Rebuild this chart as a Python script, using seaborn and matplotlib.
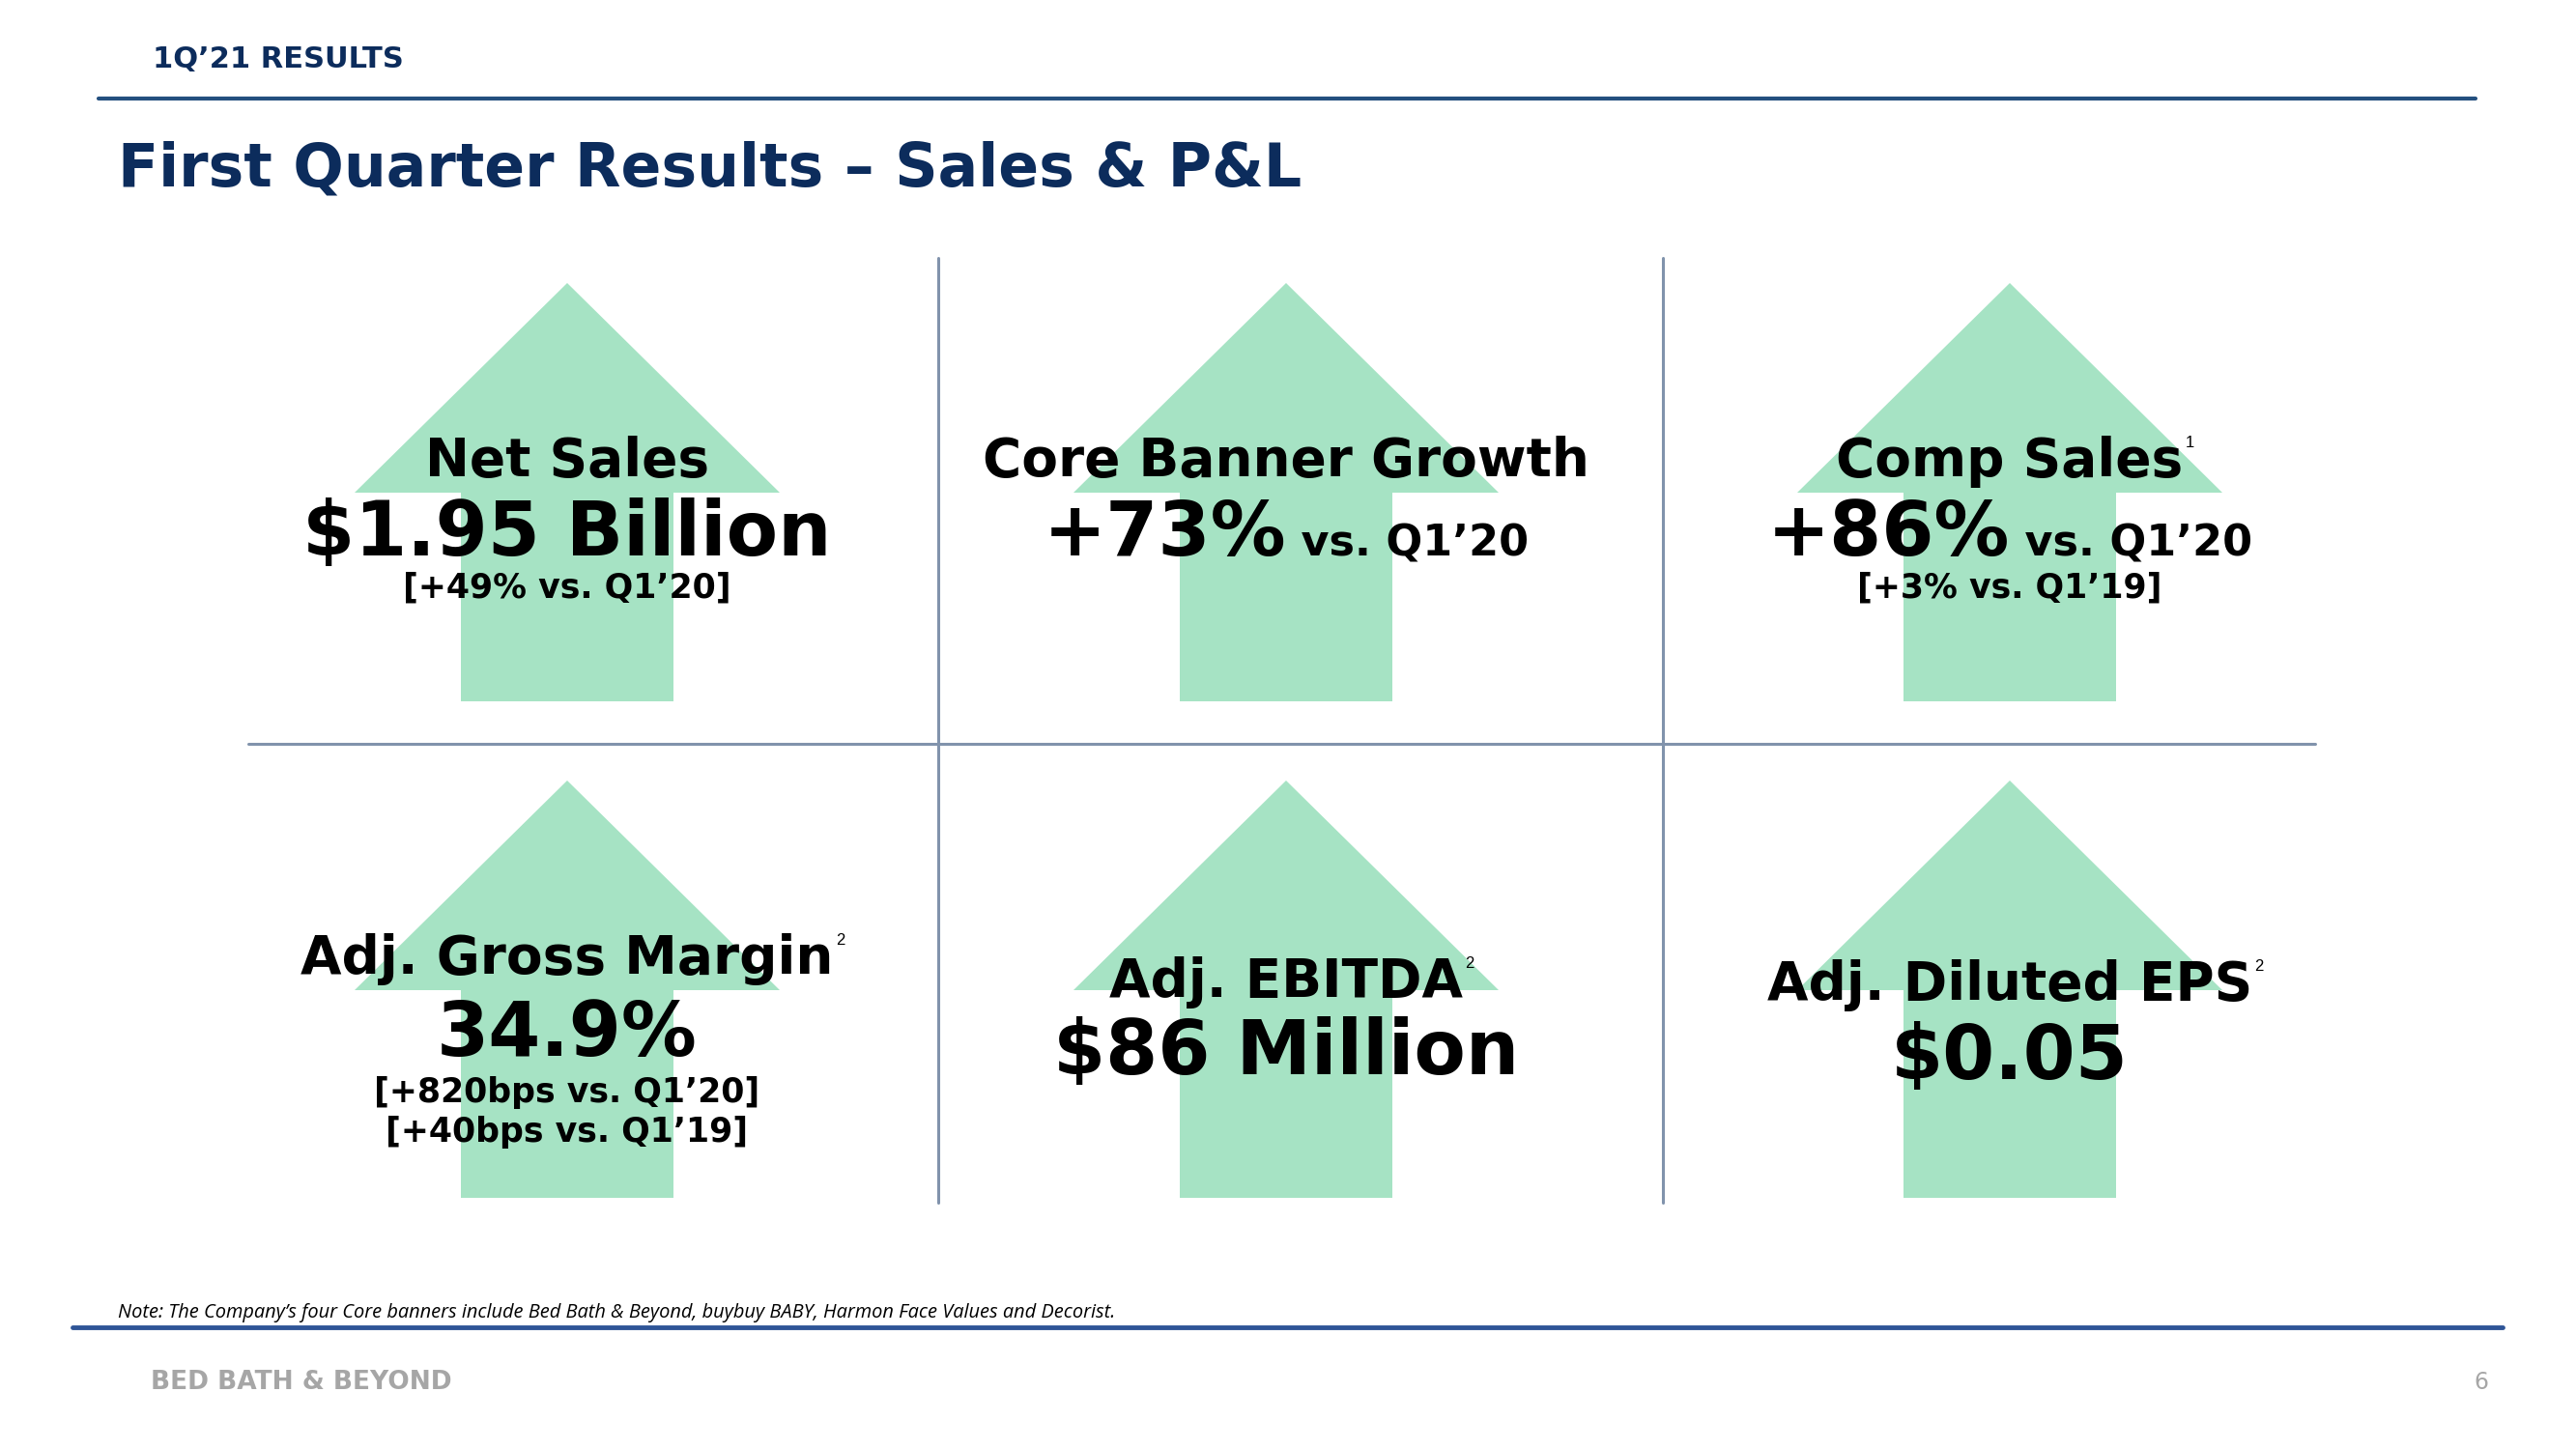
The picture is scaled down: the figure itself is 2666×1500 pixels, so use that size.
import matplotlib
matplotlib.use("Agg")
import matplotlib.pyplot as plt
from matplotlib.patches import Polygon
import seaborn as sns

# --- contenu du slide ---
section_label = "1Q\u201921 RESULTS"
page_title = "First Quarter Results \u2013 Sales & P&L"
metric_names = ["Net Sales", "Core Banner Growth", "Comp Sales",
                "Adj. Gross Margin", "Adj. EBITDA", "Adj. Diluted EPS"]
metric_notes = ["", "", "1", "2", "2", "2"]
metric_values = ["$1.95 Billion", "+73%", "+86%", "34.9%", "$86 Million", "$0.05"]
value_suffix = ["", " vs. Q1\u201920", " vs. Q1\u201920", "", "", ""]
metric_details = [["[+49% vs. Q1\u201920]"], [], ["[+3% vs. Q1\u201919]"],
                  ["[+820bps vs. Q1\u201920]", "[+40bps vs. Q1\u201919]"], [], []]
footnote = ("Note: The Company\u2019s four Core banners include Bed Bath & Beyond, "
            "buybuy BABY, Harmon Face Values and Decorist.")
brand = "BED BATH & BEYOND"
page_no = "6"

NAVY = "#0C2C5C"
GREEN = "#A6E3C4"
GRID = "#8193AC"
FONT = "DejaVu Sans"

sns.set_theme(style="white")
plt.rcParams["font.family"] = [FONT]

W, H = 2666, 1500
fig = plt.figure(figsize=(W / 100, H / 100), dpi=100)
ax = fig.add_axes([0, 0, 1, 1])
ax.set_xlim(0, W)
ax.set_ylim(H, 0)
ax.axis("off")
renderer = fig.canvas.get_renderer()


def text_width(t):
    return t.get_window_extent(renderer=renderer).width


def arrow(cx, tip, head_base, bottom):
    pts = [(cx, tip), (cx + 220, head_base), (cx + 110, head_base), (cx + 110, bottom),
           (cx - 110, bottom), (cx - 110, head_base), (cx - 220, head_base)]
    ax.add_patch(Polygon(pts, closed=True, facecolor=GREEN, edgecolor="none", zorder=1))


# en-tête
ax.text(158, 70, section_label, fontsize=22, fontweight="bold", color=NAVY, va="baseline")
ax.plot([102, 2562], [102, 102], color="#24507F", lw=3)
ax.text(122, 192, page_title, fontsize=44.5, fontweight="bold", color=NAVY, va="baseline")

# grille
ax.plot([971, 971], [267, 1245], color=GRID, lw=2.2)
ax.plot([1721, 1721], [267, 1245], color=GRID, lw=2.2)
ax.plot([257, 2396], [770, 770], color=GRID, lw=2.2)

col_x = [587, 1331, 2080]
rows = [dict(tip=293, base=510, bottom=726, name=[493, 493, 493], value=[575, 575, 575],
             detail=[619, 619, 619]),
        dict(tip=808, base=1025, bottom=1240, name=[1008, 1032, 1035], value=[1093, 1112, 1117],
             detail=[1141, 0, 0])]

for i in range(6):
    r, c = divmod(i, 3)
    row = rows[r]
    cx = col_x[c]
    arrow(cx, row["tip"], row["base"], row["bottom"])

    t = ax.text(cx, row["name"][c], metric_names[i], fontsize=39.5, fontweight="bold",
                color="black", ha="center", va="baseline", zorder=3)
    if metric_notes[i]:
        w = text_width(t)
        ax.text(cx + w / 2 + 2, row["name"][c] - 30, metric_notes[i], fontsize=12,
                family="Liberation Sans", color="black", ha="left", va="baseline", zorder=3)

    # valeur principale (+ suffixe plus petit)
    big = ax.text(0, row["value"][c], metric_values[i], fontsize=56, fontweight="bold",
                  color="black", ha="left", va="baseline", zorder=3)
    wb = text_width(big)
    if value_suffix[i]:
        small = ax.text(0, row["value"][c], value_suffix[i], fontsize=32, fontweight="bold",
                        color="black", ha="left", va="baseline", zorder=3)
        ws = text_width(small)
        x0 = cx - (wb + ws) / 2
        big.set_x(x0)
        small.set_x(x0 + wb)
    else:
        big.set_x(cx - wb / 2)

    for k, d in enumerate(metric_details[i]):
        ax.text(cx, row["detail"][c] + k * 41, d, fontsize=25, fontweight="bold",
                color="black", ha="center", va="baseline", zorder=3)

# pied de page
ax.text(122, 1364, footnote, fontsize=14.4, style="italic", family="Open Sans",
        color="black", va="baseline")
ax.plot([75, 2590], [1374, 1374], color="#2F5597", lw=3.5)
ax.text(156, 1438, brand, fontsize=19, fontweight="bold", color="#A6A6A6", va="baseline")
ax.text(2575, 1438, page_no, fontsize=17, color="#A6A6A6", ha="right", va="baseline")

fig.savefig("out.png", dpi=100)
